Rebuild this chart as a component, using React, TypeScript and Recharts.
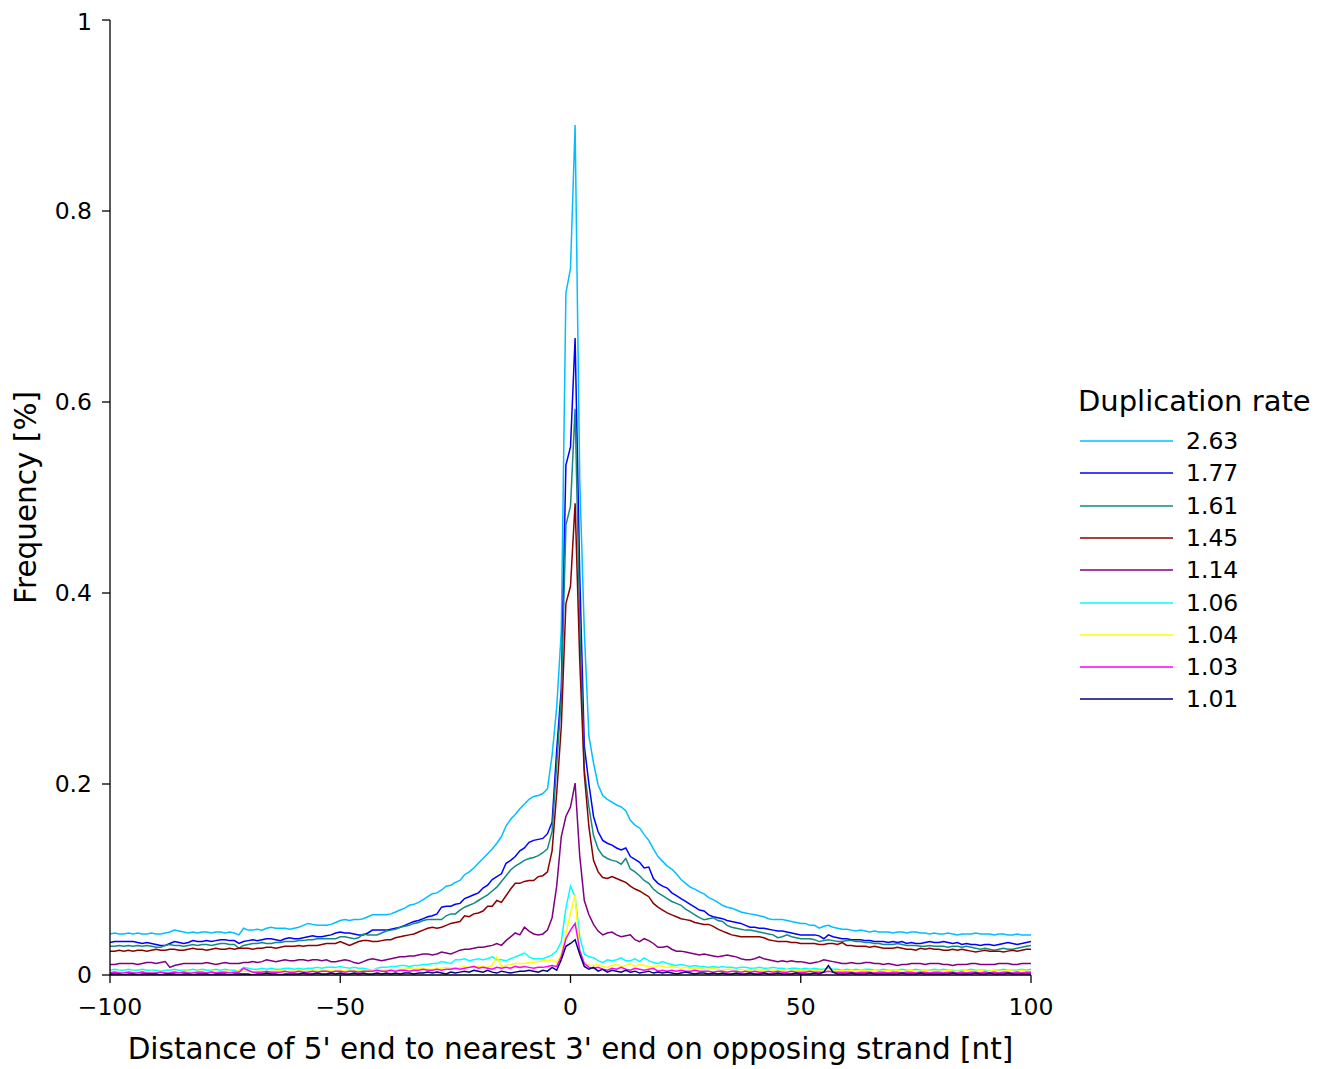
import React from "react";
import { LineChart, Line, XAxis, YAxis, Label } from "recharts";

const FONT = "'DejaVu Sans', 'Liberation Sans', sans-serif";

// Distance axis: one sample per nucleotide from -100 to 100.
const distances: number[] = Array.from({ length: 201 }, (_, i) => i - 100);

// Frequencies in thousandths of a percent, one value per distance (-100 .. 100).
const rate263 = [
  43, 44, 43, 43, 44, 43, 44, 43, 43, 44,
  43, 43, 44, 45, 47, 46, 45, 44, 45, 44,
  45, 45, 44, 45, 45, 44, 45, 44, 42, 49,
  47, 47, 48, 47, 49, 50, 49, 49, 49, 48,
  49, 50, 52, 54, 53, 52, 52, 52, 53, 55,
  57, 58, 57, 58, 58, 59, 61, 63, 63, 63,
  63, 64, 66, 68, 70, 73, 74, 76, 79, 82,
  85, 86, 89, 93, 94, 97, 99, 105, 108, 112,
  117, 122, 127, 132, 138, 145, 156, 163, 168, 174,
  179, 184, 187, 188, 190, 195, 230, 280, 360, 714,
  740, 890, 520, 360, 250, 222, 199, 188, 184, 181,
  178, 176, 172, 162, 157, 154, 147, 141, 132, 124,
  119, 114, 111, 106, 100, 96, 92, 90, 87, 85,
  81, 79, 76, 73, 71, 70, 68, 66, 65, 64,
  63, 62, 61, 59, 58, 58, 58, 57, 56, 55,
  54, 54, 52, 52, 49, 51, 52, 50, 49, 48,
  48, 47, 46, 47, 46, 45, 46, 45, 45, 45,
  44, 45, 45, 44, 45, 45, 44, 44, 43, 44,
  43, 43, 44, 43, 42, 43, 43, 43, 44, 43,
  43, 43, 42, 43, 43, 42, 42, 43, 42, 42,
  42,
];

const rate177 = [
  34, 35, 35, 35, 35, 35, 34, 33, 34, 33,
  32, 31, 31, 33, 35, 34, 33, 34, 36, 35,
  35, 36, 35, 36, 37, 37, 36, 36, 33, 35,
  36, 37, 36, 37, 38, 38, 37, 36, 38, 39,
  38, 38, 39, 40, 41, 40, 40, 41, 42, 44,
  45, 44, 44, 43, 42, 42, 44, 47, 47, 47,
  47, 48, 49, 50, 52, 54, 56, 57, 59, 61,
  62, 64, 71, 72, 72, 74, 75, 80, 82, 84,
  86, 91, 94, 100, 103, 106, 117, 120, 124, 130,
  133, 139, 141, 142, 143, 148, 160, 235, 300, 534,
  553, 667, 420, 240, 200, 166, 150, 141, 138, 136,
  133, 131, 133, 124, 121, 118, 112, 113, 101, 96,
  93, 91, 86, 83, 80, 77, 74, 71, 68, 67,
  63, 61, 60, 59, 57, 56, 55, 54, 52, 50,
  50, 49, 49, 48, 47, 46, 46, 45, 44, 43,
  42, 42, 42, 42, 41, 38, 42, 40, 39, 38,
  38, 37, 37, 37, 36, 36, 35, 35, 35, 34,
  35, 34, 35, 33, 34, 33, 33, 34, 35, 34,
  34, 35, 34, 33, 34, 32, 33, 32, 32, 31,
  32, 32, 31, 32, 33, 34, 33, 32, 33, 34,
  35,
];

const rate161 = [
  30, 30, 31, 30, 31, 30, 31, 30, 31, 30,
  29, 29, 31, 32, 31, 31, 30, 31, 32, 31,
  32, 32, 31, 32, 33, 33, 32, 32, 28, 31,
  32, 33, 33, 34, 33, 33, 34, 34, 35, 35,
  35, 36, 36, 37, 37, 38, 38, 38, 38, 38,
  40, 40, 39, 38, 39, 43, 42, 42, 42, 44,
  46, 47, 48, 50, 51, 52, 54, 55, 57, 58,
  58, 58, 58, 62, 64, 64, 68, 71, 73, 75,
  78, 81, 84, 88, 92, 98, 104, 110, 114, 117,
  120, 122, 123, 125, 128, 132, 150, 220, 290, 471,
  491, 593, 370, 215, 176, 146, 132, 125, 122, 120,
  119, 116, 122, 111, 108, 104, 99, 96, 90, 86,
  83, 80, 77, 75, 73, 69, 66, 63, 60, 58,
  59, 60, 57, 56, 52, 50, 49, 48, 47, 47,
  46, 45, 44, 43, 42, 39, 40, 42, 40, 39,
  38, 38, 38, 37, 35, 36, 37, 36, 35, 35,
  36, 36, 35, 35, 34, 34, 33, 33, 32, 32,
  32, 33, 32, 31, 31, 31, 30, 30, 31, 30,
  30, 30, 29, 30, 30, 29, 30, 29, 28, 27,
  28, 27, 26, 27, 28, 27, 27, 28, 29, 30,
  31,
];

const rate145 = [
  25, 25, 26, 25, 26, 25, 26, 26, 25, 26,
  27, 26, 26, 27, 27, 26, 26, 27, 28, 27,
  27, 26, 27, 28, 27, 27, 28, 27, 28, 28,
  28, 27, 28, 28, 29, 29, 28, 29, 30, 30,
  30, 31, 30, 31, 31, 31, 32, 33, 33, 33,
  35, 33, 31, 33, 35, 36, 36, 35, 35, 36,
  37, 37, 39, 40, 41, 42, 43, 45, 47, 49,
  50, 49, 50, 52, 54, 55, 56, 62, 61, 64,
  65, 67, 72, 72, 78, 76, 83, 90, 96, 96,
  98, 99, 99, 103, 104, 108, 130, 190, 260, 389,
  407, 494, 330, 210, 155, 120, 108, 102, 101, 103,
  101, 99, 97, 93, 90, 88, 85, 82, 75, 71,
  68, 65, 63, 61, 59, 58, 57, 55, 54, 53,
  53, 51, 48, 46, 44, 42, 41, 40, 40, 40,
  40, 40, 39, 37, 36, 35, 35, 35, 34, 34,
  33, 33, 33, 33, 32, 32, 33, 33, 32, 34,
  31, 31, 30, 30, 30, 29, 30, 29, 28, 28,
  28, 29, 28, 27, 27, 26, 28, 27, 28, 27,
  27, 26, 26, 27, 26, 27, 26, 25, 24, 25,
  26, 25, 25, 25, 24, 25, 26, 25, 26, 27,
  27,
];

const rate114 = [
  11, 11, 12, 12, 12, 12, 11, 12, 13, 13,
  12, 13, 14, 8, 10, 11, 12, 12, 12, 12,
  12, 13, 12, 11, 12, 13, 12, 12, 12, 13,
  13, 14, 13, 14, 16, 15, 14, 15, 16, 15,
  15, 16, 16, 15, 16, 16, 15, 16, 14, 14,
  15, 16, 15, 13, 12, 14, 16, 17, 16, 15,
  16, 17, 18, 19, 19, 20, 20, 21, 22, 22,
  21, 22, 24, 23, 22, 24, 26, 27, 27, 28,
  29, 29, 30, 31, 33, 31, 36, 40, 44, 42,
  50, 46, 43, 42, 43, 47, 60, 93, 145, 166,
  176, 201, 125, 78, 63, 53, 46, 42, 44, 45,
  42, 40, 41, 42, 37, 35, 38, 36, 33, 29,
  29, 30, 27, 25, 25, 24, 23, 22, 21, 22,
  21, 20, 19, 20, 21, 20, 19, 17, 16, 16,
  17, 19, 17, 16, 15, 14, 15, 14, 15, 14,
  14, 13, 12, 13, 14, 16, 15, 14, 13, 12,
  12, 13, 12, 12, 13, 13, 12, 12, 11, 12,
  11, 10, 11, 11, 12, 12, 12, 11, 12, 12,
  12, 11, 11, 10, 11, 11, 11, 12, 12, 11,
  11, 11, 11, 12, 12, 12, 11, 11, 12, 12,
  12,
];

const rate106 = [
  5, 6, 5, 5, 6, 5, 5, 6, 5, 5,
  5, 4, 5, 5, 6, 5, 5, 5, 6, 5,
  6, 5, 5, 6, 5, 6, 5, 5, 4, 8,
  7, 6, 6, 7, 6, 7, 6, 6, 7, 7,
  6, 7, 6, 7, 7, 8, 7, 8, 8, 8,
  9, 8, 7, 8, 7, 7, 6, 5, 7, 8,
  8, 9, 9, 10, 10, 9, 10, 10, 11, 11,
  12, 12, 14, 13, 12, 16, 16, 17, 15, 16,
  17, 16, 17, 19, 16, 16, 15, 17, 19, 21,
  23, 19, 17, 17, 17, 19, 21, 25, 35, 70,
  93, 82, 40, 22, 19, 18, 15, 13, 16, 15,
  16, 18, 15, 15, 17, 14, 18, 15, 13, 12,
  14, 12, 11, 10, 11, 10, 9, 10, 9, 9,
  8, 9, 8, 9, 8, 8, 7, 8, 8, 7,
  7, 8, 7, 7, 8, 7, 7, 6, 7, 7,
  6, 7, 6, 7, 6, 6, 7, 6, 6, 5,
  6, 5, 6, 5, 6, 6, 5, 5, 6, 5,
  5, 5, 6, 5, 5, 6, 5, 5, 5, 6,
  5, 6, 5, 5, 4, 5, 5, 6, 5, 5,
  5, 4, 5, 5, 6, 5, 5, 5, 6, 5,
  6,
];

const rate104 = [
  4, 3, 4, 3, 3, 4, 3, 4, 3, 4,
  3, 4, 3, 3, 4, 3, 4, 4, 3, 4,
  4, 3, 4, 4, 3, 4, 4, 3, 5, 4,
  4, 3, 4, 4, 3, 4, 4, 5, 4, 4,
  4, 5, 4, 4, 5, 4, 5, 5, 4, 5,
  5, 4, 5, 5, 4, 5, 5, 5, 6, 5,
  5, 6, 5, 6, 6, 7, 6, 7, 7, 6,
  6, 7, 7, 8, 7, 7, 8, 9, 8, 8,
  9, 9, 8, 10, 19, 9, 10, 11, 12, 12,
  12, 13, 13, 14, 15, 15, 16, 13, 22, 43,
  65, 84, 22, 12, 10, 10, 11, 9, 8, 10,
  11, 9, 10, 12, 9, 11, 10, 9, 8, 10,
  9, 8, 9, 8, 7, 8, 7, 6, 7, 6,
  6, 7, 6, 5, 6, 6, 5, 6, 5, 5,
  6, 5, 5, 6, 5, 5, 5, 6, 5, 5,
  5, 4, 5, 5, 4, 5, 6, 5, 4, 5,
  4, 5, 4, 5, 5, 4, 5, 4, 4, 5,
  4, 5, 4, 4, 5, 4, 4, 5, 4, 4,
  4, 4, 5, 4, 4, 4, 5, 4, 4, 5,
  4, 4, 5, 4, 4, 5, 4, 4, 5, 4,
  4,
];

const rate103 = [
  2, 3, 2, 2, 3, 2, 2, 3, 2, 2,
  2, 3, 2, 2, 3, 2, 3, 2, 2, 3,
  3, 2, 3, 2, 3, 3, 2, 3, 3, 7,
  5, 3, 3, 3, 4, 3, 3, 3, 4, 3,
  3, 4, 3, 3, 4, 3, 4, 4, 3, 4,
  4, 3, 4, 4, 3, 4, 4, 4, 5, 4,
  4, 5, 4, 5, 5, 4, 5, 5, 6, 5,
  5, 6, 5, 6, 6, 7, 6, 7, 8, 9,
  7, 8, 7, 6, 8, 7, 8, 7, 9, 8,
  9, 8, 7, 8, 8, 9, 10, 9, 19, 38,
  47, 54, 26, 12, 8, 7, 8, 6, 5, 7,
  6, 8, 6, 5, 7, 6, 5, 6, 7, 4,
  5, 4, 5, 4, 5, 4, 4, 5, 4, 4,
  4, 3, 4, 4, 3, 4, 4, 3, 4, 3,
  4, 3, 3, 4, 3, 4, 3, 3, 4, 3,
  3, 3, 4, 3, 3, 3, 4, 3, 3, 3,
  3, 3, 2, 3, 3, 3, 2, 3, 3, 2,
  3, 3, 2, 3, 3, 2, 3, 3, 2, 3,
  3, 2, 3, 3, 2, 3, 2, 3, 3, 2,
  3, 2, 3, 2, 3, 3, 2, 3, 2, 3,
  3,
];

const rate101 = [
  1, 1, 1, 0, 1, 1, 0, 1, 1, 1,
  1, 0, 1, 1, 1, 0, 1, 1, 0, 1,
  1, 1, 0, 1, 1, 1, 0, 1, 1, 1,
  1, 0, 1, 1, 2, 1, 1, 0, 1, 1,
  1, 1, 2, 1, 1, 2, 1, 1, 2, 1,
  2, 1, 1, 2, 1, 2, 1, 1, 2, 1,
  2, 1, 2, 1, 2, 2, 1, 2, 2, 3,
  2, 3, 2, 1, 3, 2, 3, 4, 3, 5,
  4, 3, 5, 3, 2, 4, 3, 2, 3, 4,
  4, 5, 4, 3, 5, 4, 8, 5, 16, 30,
  33, 37, 22, 9, 6, 8, 4, 6, 3, 5,
  4, 3, 5, 3, 4, 2, 3, 4, 2, 3,
  2, 3, 2, 1, 2, 3, 2, 1, 2, 2,
  1, 2, 1, 2, 1, 1, 2, 1, 1, 2,
  1, 1, 2, 1, 1, 2, 1, 1, 1, 2,
  1, 1, 1, 2, 1, 3, 10, 3, 1, 1,
  1, 2, 1, 1, 1, 2, 1, 1, 1, 1,
  1, 1, 2, 1, 1, 1, 2, 1, 1, 1,
  1, 1, 1, 2, 1, 1, 1, 1, 2, 1,
  1, 2, 1, 1, 1, 2, 1, 1, 1, 1,
  1,
];

const xTicks = [-100, -50, 0, 50, 100];
const yTicks = [0, 0.2, 0.4, 0.6, 0.8, 1];

const legendTitle = "Duplication rate";
const xTitle = "Distance of 5' end to nearest 3' end on opposing strand [nt]";
const yTitle = "Frequency [%]";

const seriesList = [
  { key: "r263", label: "2.63", color: "#00bfff", values: rate263 },
  { key: "r177", label: "1.77", color: "#0000ff", values: rate177 },
  { key: "r161", label: "1.61", color: "#138a80", values: rate161 },
  { key: "r145", label: "1.45", color: "#8b0000", values: rate145 },
  { key: "r114", label: "1.14", color: "#800080", values: rate114 },
  { key: "r106", label: "1.06", color: "#00ffff", values: rate106 },
  { key: "r104", label: "1.04", color: "#ffff00", values: rate104 },
  { key: "r103", label: "1.03", color: "#ff00ff", values: rate103 },
  { key: "r101", label: "1.01", color: "#000080", values: rate101 },
];

const rows = distances.map((d, i) => {
  const row: Record<string, number | null> = { d };
  seriesList.forEach((s) => {
    const v = s.values[i];
    row[s.key] = v === undefined ? null : v / 1000;
  });
  return row;
});

const fmtX = (v: number) => (v < 0 ? "\u2212" + Math.abs(v) : String(v));
const fmtY = (v: number) => String(v);

const W = 1302;
const H = 1061;
const AXIS_TITLE_SIZE = 29.5;
const LEGEND_TITLE_SIZE = 29;
const TICK_SIZE = 23.5;

function YTitle(props: any) {
  const vb = props.viewBox || { y: 12, height: 955 };
  const cx = 18;
  const cy = vb.y + vb.height / 2;
  return (
    <text
      x={cx}
      y={cy}
      transform={`rotate(-90 ${cx} ${cy})`}
      textAnchor="middle"
      dominantBaseline="central"
      fontFamily={FONT}
      fontSize={AXIS_TITLE_SIZE}
      fill="#000"
    >
      {yTitle}
    </text>
  );
}

export default function App() {
  return (
    <div style={{ position: "relative", width: W, height: H }}>
      <LineChart
        width={W}
        height={H}
        data={rows}
        margin={{ top: 12, right: 279, bottom: 0, left: 0 }}
      >
        <XAxis
          type="number"
          dataKey="d"
          domain={[-100, 100]}
          ticks={xTicks}
          tickFormatter={fmtX}
          height={94}
          tickSize={8}
          tickMargin={15}
          stroke="#000"
          axisLine={{ stroke: "#000", strokeWidth: 1.3 }}
          tickLine={{ stroke: "#000", strokeWidth: 1.3 }}
          tick={{ fill: "#000", fontSize: TICK_SIZE, fontFamily: FONT }}
          allowDataOverflow
        >
          <Label
            value={xTitle}
            position="insideBottom"
            offset={10}
            fill="#000"
            fontSize={AXIS_TITLE_SIZE}
            fontFamily={FONT}
          />
        </XAxis>
        <YAxis
          type="number"
          domain={[0, 1]}
          ticks={yTicks}
          tickFormatter={fmtY}
          width={102}
          tickSize={8}
          tickMargin={10}
          stroke="#000"
          axisLine={{ stroke: "#000", strokeWidth: 1.3 }}
          tickLine={{ stroke: "#000", strokeWidth: 1.3 }}
          tick={{ fill: "#000", fontSize: TICK_SIZE, fontFamily: FONT }}
          allowDataOverflow
        >
          <Label content={<YTitle />} />
        </YAxis>
        {seriesList.map((s) => (
          <Line
            key={s.key}
            type="linear"
            dataKey={s.key}
            stroke={s.color}
            strokeWidth={1.5}
            dot={false}
            activeDot={false}
            isAnimationActive={false}
          />
        ))}
      </LineChart>
      <div
        style={{
          position: "absolute",
          left: 1070,
          top: 374,
          width: 232,
          fontFamily: FONT,
          color: "#000",
        }}
      >
        <div style={{ fontSize: LEGEND_TITLE_SIZE, lineHeight: "38px", whiteSpace: "nowrap" }}>
          {legendTitle}
        </div>
        {seriesList.map((s, i) => (
          <div
            key={s.key}
            style={{
              position: "absolute",
              left: 0,
              top: 44 + i * 32.3,
              height: 30,
              width: 200,
            }}
          >
            <svg
              width={96}
              height={30}
              style={{ position: "absolute", left: 0, top: 0 }}
            >
              <line x1={2} x2={95} y1={15} y2={15} stroke={s.color} strokeWidth={1.5} />
            </svg>
            <div
              style={{
                position: "absolute",
                left: 108,
                top: 0,
                fontSize: TICK_SIZE,
                lineHeight: "30px",
                whiteSpace: "nowrap",
              }}
            >
              {s.label}
            </div>
          </div>
        ))}
      </div>
    </div>
  );
}
